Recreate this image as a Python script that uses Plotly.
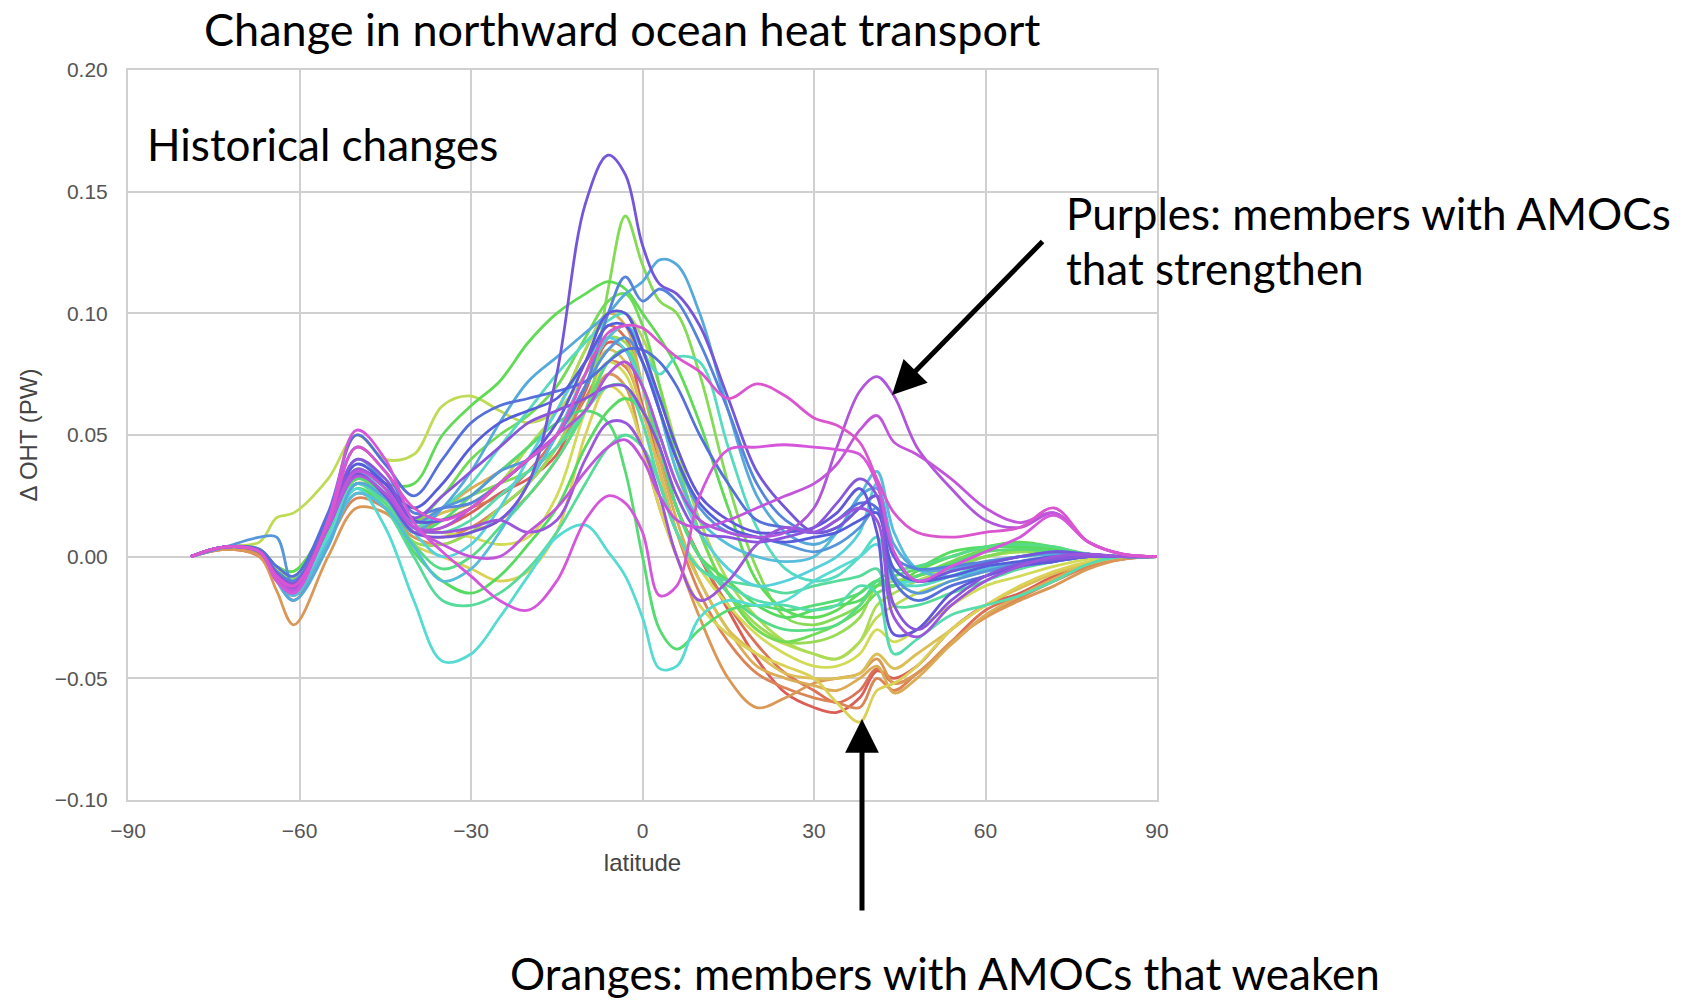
import colorsys
import plotly.graph_objects as go

# Latitudes at which each ensemble member's change in ocean heat transport is sampled
LAT = [-79, -73, -67, -64, -61, -55, -50, -45, -40, -35, -30, -25, -20, -15, -10,
       -6, -3, 0, 3, 6, 10, 15, 20, 25, 30, 34, 38, 41, 44, 48, 54, 60, 66, 72, 78, 84, 90]

# Ensemble members (PW), ordered from most-weakening AMOC (reds) to most-strengthening (magentas)
m00 = [0, 0.003, 0.000, -0.010, -0.018, 0.006, 0.026, 0.020, 0.010, 0.012, 0.018, 0.026, 0.032, 0.042, 0.068,
       0.088, 0.085, 0.062, 0.040, 0.020, 0.000, -0.022, -0.042, -0.056, -0.062, -0.064, -0.058, -0.047, -0.050, -0.045,
       -0.030, -0.020, -0.015, -0.008, -0.003, 0.000, 0.000]
m01 = [0, 0.003, 0.001, -0.009, -0.015, 0.008, 0.030, 0.024, 0.012, 0.015, 0.020, 0.025, 0.035, 0.050, 0.075,
       0.095, 0.090, 0.070, 0.045, 0.020, 0.000, -0.020, -0.036, -0.048, -0.055, -0.060, -0.055, -0.046, -0.052, -0.048,
       -0.035, -0.022, -0.016, -0.010, -0.004, -0.001, 0.000]
mC = [0, 0.003, 0.001, -0.010, -0.016, 0.006, 0.024, 0.020, 0.010, 0.008, 0.012, 0.020, 0.030, 0.045, 0.065,
      0.080, 0.078, 0.060, 0.035, 0.010, -0.015, -0.035, -0.048, -0.054, -0.058, -0.060, -0.062, -0.050, -0.055, -0.048,
      -0.036, -0.024, -0.017, -0.010, -0.004, -0.001, 0.000]
m02 = [0, 0.003, 0.000, -0.014, -0.028, 0.000, 0.020, 0.018, 0.008, 0.005, 0.010, 0.015, 0.025, 0.040, 0.060,
       0.075, 0.070, 0.045, 0.020, 0.000, -0.025, -0.050, -0.062, -0.058, -0.052, -0.050, -0.048, -0.042, -0.052, -0.048,
       -0.035, -0.025, -0.018, -0.012, -0.005, -0.001, 0.000]
m03 = [0, 0.004, 0.002, -0.008, -0.012, 0.010, 0.030, 0.026, 0.015, 0.020, 0.028, 0.035, 0.045, 0.060, 0.085,
       0.100, 0.095, 0.070, 0.040, 0.015, -0.010, -0.030, -0.045, -0.050, -0.053, -0.055, -0.050, -0.045, -0.056, -0.050,
       -0.036, -0.024, -0.016, -0.009, -0.003, 0.000, 0.000]
m04 = [0, 0.004, 0.002, -0.006, -0.010, 0.012, 0.035, 0.028, 0.014, 0.018, 0.022, 0.030, 0.040, 0.050, 0.070,
       0.085, 0.080, 0.060, 0.035, 0.010, -0.010, -0.030, -0.040, -0.048, -0.050, -0.050, -0.048, -0.040, -0.046, -0.040,
       -0.030, -0.020, -0.013, -0.007, -0.003, 0.000, 0.000]
m05 = [0, 0.004, 0.003, -0.005, -0.008, 0.012, 0.030, 0.022, 0.005, 0.000, -0.005, -0.010, -0.006, 0.010, 0.050,
       0.070, 0.065, 0.045, 0.020, 0.000, -0.020, -0.032, -0.040, -0.045, -0.050, -0.060, -0.068, -0.055, -0.052, -0.045,
       -0.030, -0.020, -0.012, -0.006, -0.002, 0.000, 0.000]
m06 = [0, 0.004, 0.003, -0.004, -0.006, 0.014, 0.034, 0.026, 0.012, 0.010, 0.008, 0.005, 0.008, 0.025, 0.060,
       0.080, 0.075, 0.055, 0.030, 0.010, -0.005, -0.020, -0.032, -0.040, -0.045, -0.045, -0.040, -0.030, -0.035, -0.030,
       -0.020, -0.012, -0.008, -0.004, -0.001, 0.000, 0.000]
m07 = [0, 0.004, 0.006, 0.016, 0.018, 0.032, 0.050, 0.040, 0.042, 0.062, 0.066, 0.060, 0.055, 0.060, 0.075,
       0.090, 0.095, 0.085, 0.060, 0.035, 0.010, -0.015, -0.030, -0.036, -0.040, -0.042, -0.035, -0.025, -0.020, -0.015,
       -0.010, -0.006, -0.003, -0.001, 0.000, 0.000, 0.000]
m08 = [0, 0.004, 0.002, -0.008, -0.010, 0.012, 0.030, 0.024, 0.010, 0.015, 0.020, 0.030, 0.045, 0.060, 0.085,
       0.100, 0.100, 0.090, 0.070, 0.045, 0.015, -0.010, -0.025, -0.035, -0.040, -0.042, -0.035, -0.020, -0.015, -0.010,
       -0.005, 0.000, 0.002, 0.002, 0.001, 0.000, 0.000]
m09 = [0, 0.004, 0.002, -0.006, -0.009, 0.012, 0.030, 0.022, 0.006, 0.005, 0.010, 0.020, 0.030, 0.045, 0.070,
       0.090, 0.088, 0.070, 0.045, 0.020, 0.000, -0.015, -0.028, -0.035, -0.035, -0.032, -0.025, -0.012, -0.010, -0.008,
       -0.004, 0.000, 0.002, 0.001, 0.000, 0.000, 0.000]
m10 = [0, 0.004, 0.002, -0.006, -0.010, 0.012, 0.032, 0.026, 0.012, 0.020, 0.025, 0.030, 0.035, 0.045, 0.060,
       0.110, 0.140, 0.120, 0.105, 0.100, 0.075, 0.030, -0.005, -0.025, -0.028, -0.025, -0.020, -0.012, -0.012, -0.008,
       -0.004, 0.000, 0.003, 0.003, 0.001, 0.000, 0.000]
mB = [0, 0.004, 0.002, -0.006, -0.010, 0.012, 0.032, 0.026, 0.015, 0.025, 0.040, 0.050, 0.058, 0.070, 0.090,
      0.105, 0.108, 0.095, 0.070, 0.040, 0.010, -0.015, -0.030, -0.035, -0.032, -0.028, -0.022, -0.015, -0.012, -0.008,
      -0.002, 0.003, 0.005, 0.003, 0.001, 0.000, 0.000]
m11 = [0, 0.004, 0.003, -0.004, -0.006, 0.014, 0.036, 0.030, 0.030, 0.050, 0.062, 0.072, 0.088, 0.100, 0.108,
       0.113, 0.110, 0.100, 0.090, 0.078, 0.055, 0.020, -0.010, -0.022, -0.025, -0.022, -0.015, -0.010, -0.012, -0.006,
       0.000, 0.004, 0.006, 0.004, 0.001, 0.000, 0.000]
m12 = [0, 0.004, 0.002, -0.008, -0.012, 0.010, 0.028, 0.020, 0.002, -0.010, -0.015, -0.008, 0.005, 0.020, 0.045,
       0.060, 0.065, 0.060, 0.045, 0.020, 0.000, -0.010, -0.020, -0.025, -0.022, -0.020, -0.018, -0.012, -0.008, -0.005,
       0.002, 0.004, 0.004, 0.003, 0.001, 0.000, 0.000]
m13 = [0, 0.004, 0.002, -0.006, -0.010, 0.012, 0.032, 0.024, 0.010, 0.015, 0.025, 0.035, 0.045, 0.055, 0.060,
       0.055, 0.035, 0.000, -0.030, -0.038, -0.030, -0.022, -0.020, -0.022, -0.020, -0.018, -0.015, -0.010, -0.012, -0.008,
       -0.003, 0.002, 0.003, 0.002, 0.001, 0.000, 0.000]
m14 = [0, 0.004, 0.002, -0.007, -0.011, 0.012, 0.030, 0.022, 0.005, -0.005, 0.000, 0.012, 0.025, 0.040, 0.060,
       0.080, 0.085, 0.070, 0.045, 0.020, 0.000, -0.015, -0.025, -0.030, -0.030, -0.028, -0.020, -0.010, -0.006, -0.004,
       0.000, 0.004, 0.005, 0.004, 0.001, 0.000, 0.000]
m15 = [0, 0.004, 0.002, -0.008, -0.012, 0.010, 0.030, 0.020, 0.000, -0.018, -0.020, -0.015, -0.005, 0.010, 0.030,
       0.045, 0.050, 0.045, 0.030, 0.010, -0.005, -0.010, -0.012, -0.015, -0.012, -0.010, -0.008, -0.005, -0.020, -0.020,
       -0.015, -0.010, -0.005, -0.002, 0.000, 0.000, 0.000]
m16 = [0, 0.004, 0.002, -0.006, -0.010, 0.013, 0.034, 0.026, 0.012, 0.010, 0.015, 0.025, 0.035, 0.045, 0.060,
       0.070, 0.070, 0.055, 0.030, 0.010, -0.005, -0.012, -0.018, -0.020, -0.022, -0.020, -0.012, -0.015, -0.040, -0.034,
       -0.024, -0.020, -0.016, -0.010, -0.003, 0.000, 0.000]
m17 = [0, 0.004, 0.002, -0.007, -0.010, 0.012, 0.030, 0.024, 0.012, 0.020, 0.030, 0.045, 0.060, 0.075, 0.088,
       0.097, 0.100, 0.085, 0.075, 0.082, 0.080, 0.045, 0.012, -0.005, -0.010, -0.008, 0.000, 0.008, -0.010, -0.012,
       -0.008, -0.003, 0.000, 0.001, 0.000, 0.000, 0.000]
m18 = [0, 0.004, 0.002, -0.008, -0.014, 0.008, 0.028, 0.012, -0.018, -0.043, -0.040, -0.025, -0.008, 0.008, 0.013,
       0.002, -0.008, -0.025, -0.046, -0.045, -0.025, -0.018, -0.020, -0.018, -0.010, -0.005, 0.000, 0.005, -0.010, -0.010,
       -0.008, -0.006, -0.004, -0.002, 0.000, 0.000, 0.000]
m19 = [0, 0.004, 0.002, -0.008, -0.012, 0.012, 0.034, 0.026, 0.010, 0.000, 0.005, 0.020, 0.040, 0.060, 0.080,
       0.090, 0.085, 0.070, 0.050, 0.030, 0.010, -0.005, -0.012, -0.010, -0.005, 0.000, 0.010, 0.030, 0.000, -0.010,
       -0.006, -0.002, 0.000, 0.002, 0.001, 0.000, 0.000]
m20 = [0, 0.004, 0.002, -0.009, -0.016, 0.006, 0.026, 0.020, 0.004, -0.010, -0.005, 0.010, 0.030, 0.050, 0.075,
       0.090, 0.095, 0.085, 0.060, 0.035, 0.015, 0.005, 0.000, -0.002, 0.000, 0.010, 0.025, 0.035, 0.010, -0.005,
       -0.008, -0.005, -0.002, 0.000, 0.000, 0.000, 0.000]
m21 = [0, 0.004, 0.002, -0.010, -0.018, 0.004, 0.030, 0.024, 0.010, 0.020, 0.035, 0.055, 0.072, 0.082, 0.092,
       0.100, 0.108, 0.113, 0.122, 0.120, 0.100, 0.060, 0.025, 0.010, 0.005, 0.010, 0.025, 0.028, 0.005, -0.005,
       -0.005, -0.003, 0.000, 0.001, 0.000, 0.000, 0.000]
m22 = [0, 0.004, 0.008, 0.008, -0.012, 0.014, 0.040, 0.030, 0.014, 0.020, 0.025, 0.035, 0.040, 0.050, 0.070,
       0.085, 0.090, 0.080, 0.060, 0.040, 0.020, 0.010, 0.008, 0.005, 0.002, 0.005, 0.012, 0.020, -0.008, -0.015,
       -0.010, -0.006, -0.003, -0.001, 0.000, 0.000, 0.000]
m23 = [0, 0.004, 0.002, -0.006, -0.010, 0.016, 0.045, 0.035, 0.018, 0.020, 0.022, 0.030, 0.040, 0.050, 0.070,
       0.100, 0.115, 0.105, 0.110, 0.105, 0.088, 0.060, 0.030, 0.015, 0.010, 0.012, 0.020, 0.025, 0.000, -0.005,
       -0.004, -0.002, 0.000, 0.002, 0.001, 0.000, 0.000]
m24 = [0, 0.004, 0.003, -0.004, -0.008, 0.018, 0.050, 0.038, 0.025, 0.040, 0.055, 0.062, 0.065, 0.068, 0.072,
       0.080, 0.085, 0.085, 0.080, 0.070, 0.050, 0.030, 0.015, 0.012, 0.010, 0.015, 0.022, 0.020, -0.010, -0.018,
       -0.012, -0.008, -0.004, -0.002, 0.000, 0.000, 0.000]
mA = [0, 0.004, 0.002, -0.007, -0.012, 0.014, 0.038, 0.030, 0.020, 0.030, 0.045, 0.055, 0.060, 0.065, 0.080,
      0.095, 0.095, 0.080, 0.060, 0.040, 0.022, 0.012, 0.008, 0.006, 0.008, 0.010, 0.015, 0.018, -0.005, -0.010,
      -0.008, -0.004, -0.002, 0.000, 0.000, 0.000, 0.000]
m25 = [0, 0.004, 0.002, -0.008, -0.012, 0.012, 0.035, 0.030, 0.015, 0.015, 0.020, 0.030, 0.040, 0.055, 0.080,
       0.100, 0.100, 0.085, 0.065, 0.045, 0.025, 0.015, 0.010, 0.010, 0.012, 0.018, 0.028, 0.010, -0.032, -0.030,
       -0.015, -0.008, -0.004, -0.002, 0.000, 0.000, 0.000]
m26 = [0, 0.004, 0.002, -0.008, -0.012, 0.012, 0.034, 0.025, 0.010, 0.008, 0.010, 0.015, 0.030, 0.075, 0.145,
       0.165, 0.157, 0.128, 0.112, 0.108, 0.095, 0.065, 0.035, 0.020, 0.010, 0.012, 0.020, 0.025, 0.000, -0.010,
       -0.006, -0.003, 0.000, 0.002, 0.001, 0.000, 0.000]
m27 = [0, 0.004, 0.002, -0.007, -0.011, 0.014, 0.040, 0.032, 0.016, 0.025, 0.035, 0.045, 0.055, 0.060, 0.065,
       0.070, 0.070, 0.060, 0.045, 0.025, 0.010, 0.008, 0.006, 0.008, 0.012, 0.022, 0.032, 0.025, -0.020, -0.030,
       -0.018, -0.008, -0.003, -0.001, 0.000, 0.000, 0.000]
m28 = [0, 0.004, 0.002, -0.008, -0.013, 0.013, 0.036, 0.028, 0.012, 0.010, 0.012, 0.015, 0.010, 0.015, 0.040,
       0.055, 0.055, 0.045, 0.025, 0.000, -0.018, -0.010, 0.005, 0.012, 0.010, 0.015, 0.020, 0.015, -0.025, -0.033,
       -0.020, -0.010, -0.004, 0.000, 0.001, 0.000, 0.000]
m29 = [0, 0.004, 0.002, -0.008, -0.012, 0.012, 0.033, 0.026, 0.012, 0.012, 0.020, 0.030, 0.040, 0.050, 0.060,
       0.075, 0.080, 0.070, 0.050, 0.030, 0.015, 0.010, 0.008, 0.010, 0.020, 0.045, 0.068, 0.074, 0.066, 0.045,
       0.028, 0.015, 0.012, 0.018, 0.006, 0.001, 0.000]
m30 = [0, 0.004, 0.002, -0.009, -0.014, 0.012, 0.035, 0.028, 0.012, 0.005, 0.000, 0.000, 0.010, 0.020, 0.035,
       0.045, 0.048, 0.040, 0.025, 0.015, 0.012, 0.015, 0.020, 0.025, 0.030, 0.038, 0.052, 0.058, 0.047, 0.042,
       0.032, 0.020, 0.014, 0.018, 0.006, 0.001, 0.000]
m31 = [0, 0.004, 0.002, -0.010, -0.015, 0.015, 0.052, 0.040, 0.014, 0.002, -0.008, -0.018, -0.022, -0.010, 0.015,
       0.025, 0.022, 0.010, -0.016, -0.012, 0.025, 0.044, 0.045, 0.046, 0.045, 0.044, 0.042, 0.030, 0.002, -0.010,
       -0.004, 0.002, 0.008, 0.017, 0.006, 0.001, 0.000]
m32 = [0, 0.004, 0.002, -0.008, -0.012, 0.014, 0.045, 0.035, 0.020, 0.015, 0.020, 0.030, 0.040, 0.050, 0.075,
       0.092, 0.095, 0.094, 0.088, 0.082, 0.076, 0.065, 0.071, 0.066, 0.057, 0.054, 0.047, 0.032, 0.018, 0.010,
       0.008, 0.010, 0.012, 0.020, 0.006, 0.001, 0.000]

MEMBERS = [m00, m01, mC, m02, m03, m04, m05, m06, m07, m08, m09, m10, mB, m11, m12, m13, m14, m15,
           m16, m17, m18, m19, m20, m21, m22, m23, m24, mA, m25, m26, m27, m28, m29, m30, m31, m32]

XTICKS = [-90, -60, -30, 0, 30, 60, 90]
XTICK_LABELS = ["\u221290", "\u221260", "\u221230", "0", "30", "60", "90"]
YTICKS = [-0.10, -0.05, 0.00, 0.05, 0.10, 0.15, 0.20]
YTICK_LABELS = ["\u22120.10", "\u22120.05", "0.00", "0.05", "0.10", "0.15", "0.20"]

fig = go.Figure()
n = len(MEMBERS)
for i, vals in enumerate(MEMBERS):
    h = 0.01 + 0.84 * i / (n - 1)
    r, g, b = colorsys.hls_to_rgb(h, 0.6, 0.65)
    col = f"rgb({int(r * 255)},{int(g * 255)},{int(b * 255)})"
    fig.add_trace(go.Scatter(x=LAT, y=vals, mode="lines",
                             line=dict(color=col, width=2.8, shape="spline", smoothing=1.0),
                             showlegend=False, hoverinfo="skip"))

L, R, T, B = 128, 539, 70, 203
PW = 1696 - L - R
PH = 1003 - T - B


def px(xp):
    return (xp - L) / PW


def py(yp):
    return (T + PH - yp) / PH


tickfont = dict(family="Liberation Sans, Arial, sans-serif", size=21, color="#555555")
labfont = dict(family="Liberation Sans, Arial, sans-serif", size=24, color="#444444")
bigfont = "Lato, 'Open Sans', sans-serif"
BIG = 44

fig.update_layout(
    width=1696, height=1003,
    margin=dict(l=L, r=R, t=T, b=B),
    paper_bgcolor="white", plot_bgcolor="white",
    showlegend=False,
)
fig.update_xaxes(range=[-90, 90], tickmode="array", tickvals=XTICKS, ticktext=XTICK_LABELS,
                 showgrid=True, gridcolor="#d0d0d0", gridwidth=1.6, zeroline=False,
                 showline=True, linecolor="#d0d0d0", linewidth=2, mirror=True,
                 ticks="outside", ticklen=11, tickcolor="rgba(0,0,0,0)", tickfont=tickfont,
                 title=dict(text="latitude", font=labfont, standoff=13))
fig.update_yaxes(range=[-0.10, 0.20], tickmode="array", tickvals=YTICKS, ticktext=YTICK_LABELS,
                 showgrid=True, gridcolor="#d0d0d0", gridwidth=1.6, zeroline=False,
                 showline=True, linecolor="#d0d0d0", linewidth=2, mirror=True,
                 ticks="outside", ticklen=14, tickcolor="rgba(0,0,0,0)", tickfont=tickfont,
                 title=dict(text="\u0394 OHT (PW)", font=labfont, standoff=10))

anns = [
    dict(text="Change in northward ocean heat transport", x=px(622), y=py(29), xanchor="center", yanchor="middle",
         font=dict(family=bigfont, size=BIG + 1, color="black")),
    dict(text="Historical changes", x=px(145), y=py(144), xanchor="left", yanchor="middle",
         font=dict(family=bigfont, size=BIG, color="black")),
    dict(text="Purples: members with AMOCs", x=px(1064), y=py(213), xanchor="left", yanchor="middle",
         font=dict(family=bigfont, size=BIG, color="black")),
    dict(text="that strengthen", x=px(1064), y=py(268), xanchor="left", yanchor="middle",
         font=dict(family=bigfont, size=BIG, color="black")),
    dict(text="Oranges: members with AMOCs that weaken", x=px(508), y=py(973), xanchor="left", yanchor="middle",
         font=dict(family=bigfont, size=BIG, color="black")),
]
for a in anns:
    a.update(xref="paper", yref="paper", showarrow=False)

# arrows
anns.append(dict(x=px(892), y=py(395), xref="paper", yref="paper", ax=152, ay=-155, axref="pixel", ayref="pixel",
                 showarrow=True, arrowhead=2, arrowsize=1.35, arrowwidth=5, arrowcolor="black", text=""))
anns.append(dict(x=px(862), y=py(719), xref="paper", yref="paper", ax=0, ay=193,
                 showarrow=True, arrowhead=2, arrowsize=1.35, arrowwidth=5, arrowcolor="black", text=""))
fig.update_layout(annotations=anns)

fig.write_html("out.html", config={"displayModeBar": False},
               post_script="document.body.style.margin='0px';")
